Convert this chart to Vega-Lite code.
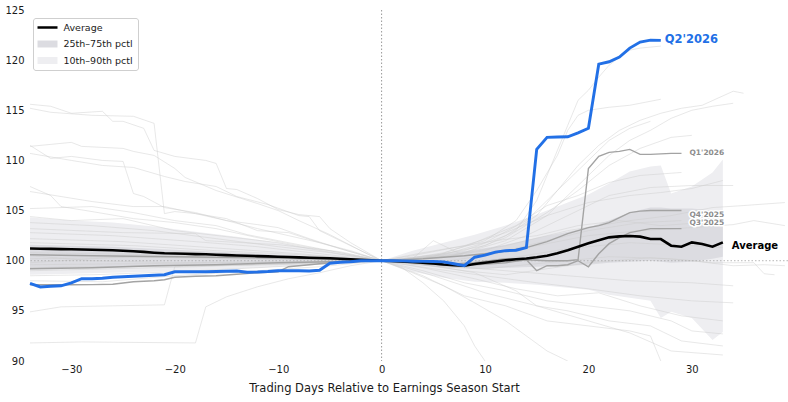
{
"$schema": "https://vega.github.io/schema/vega-lite/v6.json",
"width": 758, "height": 351,
"autosize": {"type": "none"},
"padding": {"left": 30, "top": 10, "right": 0, "bottom": 41},
"background": "white",
"config": {
 "view": {"stroke": null},
 "font": "DejaVu Sans",
 "axis": {"domain": false, "ticks": false, "grid": false, "labelFont": "DejaVu Sans", "labelFontSize": 10, "labelColor": "#1a1a1a", "titleFont": "DejaVu Sans", "titleFontSize": 11.5, "titleFontWeight": "normal", "titleColor": "#1a1a1a"},
 "axisX": {"labelPadding": 3, "titlePadding": 8},
 "axisY": {"labelPadding": 6}
},
"datasets": {
 "series": [{"s":"Average"},{"s":"25th–75th pctl"},{"s":"10th–90th pctl"}],
 "bands": [
  {"x":-34,"p10":98.6,"p25":99.2,"p75":101.6,"p90":104.3},
  {"x":-30,"p10":98.7,"p25":99.3,"p75":101.5,"p90":104.0},
  {"x":-26,"p10":98.8,"p25":99.35,"p75":101.4,"p90":103.8},
  {"x":-22,"p10":98.9,"p25":99.4,"p75":101.2,"p90":103.4},
  {"x":-18,"p10":99.0,"p25":99.5,"p75":101.0,"p90":102.9},
  {"x":-14,"p10":99.2,"p25":99.6,"p75":100.8,"p90":102.4},
  {"x":-10,"p10":99.4,"p25":99.7,"p75":100.6,"p90":101.8},
  {"x":-6,"p10":99.6,"p25":99.8,"p75":100.4,"p90":101.1},
  {"x":-3,"p10":99.8,"p25":99.9,"p75":100.2,"p90":100.6},
  {"x":0,"p10":100,"p25":100,"p75":100,"p90":100},
  {"x":3,"p10":98.9,"p25":99.6,"p75":100.4,"p90":101.0},
  {"x":6,"p10":98.3,"p25":99.3,"p75":100.7,"p90":101.8},
  {"x":9,"p10":97.9,"p25":99.2,"p75":101.1,"p90":102.6},
  {"x":12,"p10":97.8,"p25":99.3,"p75":101.6,"p90":103.5},
  {"x":15,"p10":97.6,"p25":99.4,"p75":102.3,"p90":104.6},
  {"x":18,"p10":97.3,"p25":99.5,"p75":102.9,"p90":105.8},
  {"x":20,"p10":97.1,"p25":99.6,"p75":103.3,"p90":106.6},
  {"x":22,"p10":96.6,"p25":99.8,"p75":104.0,"p90":107.7},
  {"x":24,"p10":96.3,"p25":99.9,"p75":104.8,"p90":108.9},
  {"x":26,"p10":96.0,"p25":100.0,"p75":105.3,"p90":109.4},
  {"x":27,"p10":94.3,"p25":99.9,"p75":105.3,"p90":109.5},
  {"x":28,"p10":94.9,"p25":99.8,"p75":105.2,"p90":106.7},
  {"x":30,"p10":94.3,"p25":99.9,"p75":105.2,"p90":107.4},
  {"x":32,"p10":92.1,"p25":100.2,"p75":105.0,"p90":108.8},
  {"x":33,"p10":92.9,"p25":100.4,"p75":104.9,"p90":110.1}
 ],
 "bg": [
  {"id":"b01","x":-34,"v":115.6},{"id":"b01","x":-32,"v":115.4},{"id":"b01","x":-30,"v":114.7},{"id":"b01","x":-27,"v":114.9},{"id":"b01","x":-26,"v":113.9},{"id":"b01","x":-25,"v":113.9},{"id":"b01","x":-23,"v":113.2},{"id":"b01","x":-22,"v":111.0},{"id":"b01","x":-20,"v":110.4},{"id":"b01","x":-17,"v":110.0},{"id":"b01","x":-16,"v":109.7},{"id":"b01","x":-15,"v":107.2},{"id":"b01","x":-14,"v":107.1},{"id":"b01","x":-12,"v":106.2},{"id":"b01","x":-10,"v":105.1},{"id":"b01","x":-8,"v":104.6},{"id":"b01","x":-6,"v":104.4},{"id":"b01","x":-5,"v":103.2},{"id":"b01","x":-3,"v":101.8},{"id":"b01","x":-1,"v":100.6},{"id":"b01","x":0,"v":100},{"id":"b01","x":3,"v":100.3},{"id":"b01","x":8,"v":101},{"id":"b01","x":12,"v":102.5},{"id":"b01","x":15,"v":104.5},{"id":"b01","x":17,"v":107},{"id":"b01","x":19,"v":109.5},{"id":"b01","x":21,"v":111.5},{"id":"b01","x":23,"v":113},{"id":"b01","x":25,"v":114},{"id":"b01","x":27,"v":114.7},{"id":"b01","x":29,"v":115.2},{"id":"b01","x":31,"v":115.5},{"id":"b01","x":34,"v":116.9},{"id":"b01","x":35,"v":116.7},
  {"id":"b02","x":-34,"v":115.2},{"id":"b02","x":-32,"v":114.8},{"id":"b02","x":-28,"v":114.5},{"id":"b02","x":-24,"v":114.4},{"id":"b02","x":-22,"v":113.7},{"id":"b02","x":-21,"v":104.7},{"id":"b02","x":-20,"v":104.9},{"id":"b02","x":-18,"v":104.7},{"id":"b02","x":-15,"v":104.0},{"id":"b02","x":-12,"v":103.2},{"id":"b02","x":-9,"v":102.5},{"id":"b02","x":-6,"v":101.8},{"id":"b02","x":-3,"v":101.0},{"id":"b02","x":0,"v":100},{"id":"b02","x":3,"v":100.2},{"id":"b02","x":5,"v":100.5},{"id":"b02","x":10,"v":101.5},{"id":"b02","x":13,"v":103},{"id":"b02","x":15,"v":106},{"id":"b02","x":16,"v":108.5},{"id":"b02","x":17,"v":111},{"id":"b02","x":18,"v":113.5},{"id":"b02","x":19,"v":116},{"id":"b02","x":20,"v":117},{"id":"b02","x":21,"v":118.3},{"id":"b02","x":22,"v":119.5},{"id":"b02","x":23,"v":120.3},{"id":"b02","x":24,"v":121},{"id":"b02","x":25,"v":121.2},{"id":"b02","x":27,"v":121.4},
  {"id":"b03","x":-34,"v":111.5},{"id":"b03","x":-32,"v":110.2},{"id":"b03","x":-30,"v":110.4},{"id":"b03","x":-27,"v":110.0},{"id":"b03","x":-25,"v":109.9},{"id":"b03","x":-24,"v":106.7},{"id":"b03","x":-23,"v":106.4},{"id":"b03","x":-21,"v":105.3},{"id":"b03","x":-18,"v":104.8},{"id":"b03","x":-15,"v":104.0},{"id":"b03","x":-12,"v":103.6},{"id":"b03","x":-10,"v":103.3},{"id":"b03","x":-7,"v":102.2},{"id":"b03","x":-4,"v":101.2},{"id":"b03","x":0,"v":100},{"id":"b03","x":3,"v":100.2},{"id":"b03","x":6,"v":100.6},{"id":"b03","x":10,"v":101.8},{"id":"b03","x":14,"v":104},{"id":"b03","x":17,"v":107},{"id":"b03","x":20,"v":110},{"id":"b03","x":22,"v":112},{"id":"b03","x":24,"v":113.2},{"id":"b03","x":26,"v":113.9},
  {"id":"b04","x":-34,"v":111.4},{"id":"b04","x":-30,"v":111.8},{"id":"b04","x":-29,"v":111.4},{"id":"b04","x":-25,"v":111.2},{"id":"b04","x":-24,"v":110.9},{"id":"b04","x":-22,"v":110.5},{"id":"b04","x":-20,"v":109.2},{"id":"b04","x":-19,"v":108.3},{"id":"b04","x":-16,"v":107.0},{"id":"b04","x":-12,"v":105.7},{"id":"b04","x":-10,"v":105.0},{"id":"b04","x":-8,"v":104.0},{"id":"b04","x":-5,"v":102.6},{"id":"b04","x":-2,"v":101.0},{"id":"b04","x":0,"v":100},{"id":"b04","x":4,"v":98.5},{"id":"b04","x":8,"v":96.5},{"id":"b04","x":12,"v":95.5},{"id":"b04","x":16,"v":94.0},{"id":"b04","x":20,"v":93.5},{"id":"b04","x":24,"v":93.0},{"id":"b04","x":26,"v":92.5},{"id":"b04","x":27,"v":90.0},
  {"id":"b05","x":-34,"v":110.7},{"id":"b05","x":-30,"v":110.0},{"id":"b05","x":-27,"v":109.5},{"id":"b05","x":-24,"v":109.3},{"id":"b05","x":-21,"v":108.4},{"id":"b05","x":-19,"v":107.9},{"id":"b05","x":-16,"v":107.4},{"id":"b05","x":-14,"v":106.4},{"id":"b05","x":-11,"v":105.6},{"id":"b05","x":-8,"v":104.5},{"id":"b05","x":-7,"v":104.4},{"id":"b05","x":-6,"v":103.0},{"id":"b05","x":-3,"v":101.5},{"id":"b05","x":0,"v":100},{"id":"b05","x":5,"v":100.3},{"id":"b05","x":10,"v":101},{"id":"b05","x":14,"v":102.5},{"id":"b05","x":18,"v":104.5},{"id":"b05","x":22,"v":106.5},{"id":"b05","x":26,"v":107.3},{"id":"b05","x":30,"v":107.5},{"id":"b05","x":34,"v":107.5},
  {"id":"b06","x":-34,"v":107.4},{"id":"b06","x":-32,"v":106.5},{"id":"b06","x":-31,"v":105.4},{"id":"b06","x":-28,"v":104.9},{"id":"b06","x":-24,"v":104.2},{"id":"b06","x":-20,"v":103.8},{"id":"b06","x":-16,"v":103.2},{"id":"b06","x":-12,"v":102.3},{"id":"b06","x":-8,"v":101.5},{"id":"b06","x":-4,"v":100.8},{"id":"b06","x":0,"v":100},{"id":"b06","x":3,"v":98.8},{"id":"b06","x":6,"v":97.5},{"id":"b06","x":9,"v":95.8},{"id":"b06","x":12,"v":94.0},{"id":"b06","x":14,"v":92.5},{"id":"b06","x":16,"v":91.0},{"id":"b06","x":18,"v":90.0},
  {"id":"b07","x":-34,"v":106.9},{"id":"b07","x":-28,"v":105.9},{"id":"b07","x":-24,"v":105.4},{"id":"b07","x":-21,"v":105.4},{"id":"b07","x":-18,"v":104.7},{"id":"b07","x":-15,"v":104.2},{"id":"b07","x":-12,"v":103.0},{"id":"b07","x":-9,"v":102.8},{"id":"b07","x":-6,"v":101.8},{"id":"b07","x":-3,"v":100.9},{"id":"b07","x":0,"v":100},{"id":"b07","x":3,"v":100.3},{"id":"b07","x":6,"v":100.8},{"id":"b07","x":10,"v":102},{"id":"b07","x":13,"v":104},{"id":"b07","x":15,"v":107},{"id":"b07","x":17,"v":110.5},{"id":"b07","x":18,"v":113},{"id":"b07","x":19,"v":114.5},{"id":"b07","x":20,"v":115},{"id":"b07","x":22,"v":115.3},{"id":"b07","x":24,"v":115.5},{"id":"b07","x":27,"v":116.1},
  {"id":"b08","x":-34,"v":105.2},{"id":"b08","x":-28,"v":105.4},{"id":"b08","x":-24,"v":104.8},{"id":"b08","x":-20,"v":104.0},{"id":"b08","x":-16,"v":103.5},{"id":"b08","x":-13,"v":102.6},{"id":"b08","x":-10,"v":102.0},{"id":"b08","x":-6,"v":101.2},{"id":"b08","x":-3,"v":100.6},{"id":"b08","x":0,"v":100},{"id":"b08","x":2,"v":99.8},{"id":"b08","x":5,"v":99.5},{"id":"b08","x":9,"v":98.8},{"id":"b08","x":13,"v":97.0},{"id":"b08","x":15,"v":95.5},{"id":"b08","x":18,"v":95.0},{"id":"b08","x":22,"v":94.0},{"id":"b08","x":26,"v":93.5},{"id":"b08","x":29,"v":92.0},{"id":"b08","x":33,"v":91.5},
  {"id":"b09","x":-34,"v":91.8},{"id":"b09","x":-29,"v":91.9},{"id":"b09","x":-18,"v":91.8},{"id":"b09","x":-17,"v":95.4},{"id":"b09","x":-15,"v":96.4},{"id":"b09","x":-12,"v":97.4},{"id":"b09","x":-9,"v":98.2},{"id":"b09","x":-6,"v":98.8},{"id":"b09","x":-3,"v":99.5},{"id":"b09","x":0,"v":100},{"id":"b09","x":4,"v":100.8},{"id":"b09","x":8,"v":101.5},{"id":"b09","x":12,"v":102.8},{"id":"b09","x":16,"v":104.5},{"id":"b09","x":20,"v":105.8},{"id":"b09","x":24,"v":106.5},{"id":"b09","x":27,"v":106.8},{"id":"b09","x":30,"v":107.2},{"id":"b09","x":33,"v":108.0},
  {"id":"b10","x":-34,"v":94.9},{"id":"b10","x":-31,"v":95.4},{"id":"b10","x":-26,"v":95.5},{"id":"b10","x":-21,"v":95.6},{"id":"b10","x":-20,"v":99.4},{"id":"b10","x":-17,"v":99.5},{"id":"b10","x":-12,"v":99.6},{"id":"b10","x":-8,"v":99.7},{"id":"b10","x":-4,"v":99.9},{"id":"b10","x":0,"v":100},{"id":"b10","x":5,"v":98.5},{"id":"b10","x":10,"v":96.8},{"id":"b10","x":15,"v":95.5},{"id":"b10","x":20,"v":94.0},{"id":"b10","x":24,"v":92.8},{"id":"b10","x":28,"v":91.0},{"id":"b10","x":33,"v":90.6},
  {"id":"b11","x":-34,"v":103.8},{"id":"b11","x":-28,"v":103.5},{"id":"b11","x":-22,"v":103.0},{"id":"b11","x":-16,"v":102.2},{"id":"b11","x":-10,"v":101.4},{"id":"b11","x":-5,"v":100.8},{"id":"b11","x":0,"v":100},{"id":"b11","x":3,"v":100.2},{"id":"b11","x":7,"v":100.5},{"id":"b11","x":12,"v":102},{"id":"b11","x":16,"v":104.5},{"id":"b11","x":19,"v":107.5},{"id":"b11","x":22,"v":110.5},{"id":"b11","x":24,"v":112},{"id":"b11","x":26,"v":113},{"id":"b11","x":28,"v":114.2},{"id":"b11","x":30,"v":115.0},{"id":"b11","x":32,"v":115.4},{"id":"b11","x":34,"v":115.7},
  {"id":"b12","x":-34,"v":102.8},{"id":"b12","x":-26,"v":102.5},{"id":"b12","x":-18,"v":101.9},{"id":"b12","x":-12,"v":101.4},{"id":"b12","x":-6,"v":100.7},{"id":"b12","x":0,"v":100},{"id":"b12","x":4,"v":99.0},{"id":"b12","x":8,"v":97.8},{"id":"b12","x":12,"v":97.0},{"id":"b12","x":16,"v":96.0},{"id":"b12","x":20,"v":95.5},{"id":"b12","x":24,"v":95.0},{"id":"b12","x":28,"v":94.0},{"id":"b12","x":30,"v":93.0},{"id":"b12","x":33,"v":92.7},
  {"id":"b13","x":-34,"v":101.8},{"id":"b13","x":-24,"v":101.5},{"id":"b13","x":-16,"v":101.0},{"id":"b13","x":-8,"v":100.6},{"id":"b13","x":0,"v":100},{"id":"b13","x":4,"v":100.3},{"id":"b13","x":8,"v":100.8},{"id":"b13","x":12,"v":102.3},{"id":"b13","x":16,"v":104.8},{"id":"b13","x":19,"v":107},{"id":"b13","x":22,"v":109.5},{"id":"b13","x":25,"v":111.2},{"id":"b13","x":28,"v":112.3},{"id":"b13","x":30,"v":112.5},
  {"id":"b14","x":-34,"v":100.8},{"id":"b14","x":-22,"v":100.6},{"id":"b14","x":-12,"v":100.4},{"id":"b14","x":-5,"v":100.2},{"id":"b14","x":0,"v":100},{"id":"b14","x":2,"v":99.3},{"id":"b14","x":4,"v":97.8},{"id":"b14","x":6,"v":96.0},{"id":"b14","x":8,"v":93.5},{"id":"b14","x":9,"v":91.5},{"id":"b14","x":10,"v":90.0},
  {"id":"b15","x":-34,"v":99.6},{"id":"b15","x":-24,"v":99.7},{"id":"b15","x":-14,"v":99.8},{"id":"b15","x":-6,"v":99.9},{"id":"b15","x":0,"v":100},{"id":"b15","x":6,"v":100.4},{"id":"b15","x":12,"v":101.5},{"id":"b15","x":18,"v":103},{"id":"b15","x":24,"v":104},{"id":"b15","x":28,"v":104.5},{"id":"b15","x":32,"v":105.3},{"id":"b15","x":35,"v":105.5},{"id":"b15","x":39,"v":105.8},
  {"id":"b16","x":-34,"v":99.0},{"id":"b16","x":-26,"v":99.2},{"id":"b16","x":-18,"v":99.4},{"id":"b16","x":-10,"v":99.7},{"id":"b16","x":0,"v":100},{"id":"b16","x":5,"v":99.2},{"id":"b16","x":10,"v":98.5},{"id":"b16","x":15,"v":97.8},{"id":"b16","x":20,"v":97.2},{"id":"b16","x":25,"v":96.5},{"id":"b16","x":30,"v":96.0},{"id":"b16","x":34,"v":95.8},
  {"id":"b17","x":-34,"v":98.5},{"id":"b17","x":-28,"v":98.6},{"id":"b17","x":-20,"v":98.9},{"id":"b17","x":-12,"v":99.3},{"id":"b17","x":-5,"v":99.7},{"id":"b17","x":0,"v":100},{"id":"b17","x":5,"v":99.8},{"id":"b17","x":10,"v":100.5},{"id":"b17","x":15,"v":101.5},{"id":"b17","x":20,"v":102.5},{"id":"b17","x":25,"v":103},{"id":"b17","x":30,"v":103.3},{"id":"b17","x":34,"v":103.6},{"id":"b17","x":36,"v":104.0},{"id":"b17","x":39,"v":103.5},
  {"id":"b18","x":-34,"v":104.4},{"id":"b18","x":-30,"v":104.0},{"id":"b18","x":-25,"v":104.2},{"id":"b18","x":-20,"v":103.0},{"id":"b18","x":-15,"v":102.4},{"id":"b18","x":-10,"v":101.8},{"id":"b18","x":-7,"v":101.2},{"id":"b18","x":-3,"v":100.5},{"id":"b18","x":0,"v":100},{"id":"b18","x":4,"v":99.3},{"id":"b18","x":9,"v":98.2},{"id":"b18","x":13,"v":97.2},{"id":"b18","x":17,"v":96.5},{"id":"b18","x":21,"v":96.8},{"id":"b18","x":25,"v":95.5},{"id":"b18","x":29,"v":94.5},{"id":"b18","x":33,"v":94.0},
  {"id":"b19","x":-34,"v":103.2},{"id":"b19","x":-25,"v":102.8},{"id":"b19","x":-18,"v":102.7},{"id":"b19","x":-17,"v":102.0},{"id":"b19","x":-10,"v":101.6},{"id":"b19","x":-4,"v":100.9},{"id":"b19","x":0,"v":100},{"id":"b19","x":5,"v":100.4},{"id":"b19","x":9,"v":101.8},{"id":"b19","x":13,"v":103.5},{"id":"b19","x":16,"v":105.5},{"id":"b19","x":19,"v":106.5},{"id":"b19","x":22,"v":107.8},{"id":"b19","x":25,"v":108.5},{"id":"b19","x":29,"v":108.8},
  {"id":"b20","x":-34,"v":100.2},{"id":"b20","x":-26,"v":100.3},{"id":"b20","x":-16,"v":100.5},{"id":"b20","x":-8,"v":100.3},{"id":"b20","x":0,"v":100},{"id":"b20","x":5,"v":99.5},{"id":"b20","x":10,"v":99.2},{"id":"b20","x":16,"v":99.8},{"id":"b20","x":22,"v":100.4},{"id":"b20","x":28,"v":100.2},{"id":"b20","x":32,"v":99.8},{"id":"b20","x":36,"v":99.8},{"id":"b20","x":37,"v":98.7},{"id":"b20","x":38,"v":98.6},
  {"id":"b21","x":-34,"v":99.3},{"id":"b21","x":-20,"v":99.5},{"id":"b21","x":-10,"v":99.6},{"id":"b21","x":0,"v":100},{"id":"b21","x":4,"v":99.6},{"id":"b21","x":8,"v":99.0},{"id":"b21","x":12,"v":98.6},{"id":"b21","x":16,"v":99.2},{"id":"b21","x":20,"v":99.8},{"id":"b21","x":26,"v":100.3},{"id":"b21","x":30,"v":100.0},{"id":"b21","x":34,"v":99.5},{"id":"b21","x":37,"v":99.6},{"id":"b21","x":39,"v":99.5},
  {"id":"b22","x":-34,"v":98.0},{"id":"b22","x":-27,"v":97.9},{"id":"b22","x":-20,"v":98.5},{"id":"b22","x":-12,"v":99.0},{"id":"b22","x":-6,"v":99.4},{"id":"b22","x":0,"v":100},{"id":"b22","x":6,"v":99.6},{"id":"b22","x":12,"v":100.2},{"id":"b22","x":18,"v":101.2},{"id":"b22","x":24,"v":101.8},{"id":"b22","x":30,"v":101.5},{"id":"b22","x":33,"v":101.3},
  {"id":"b23","x":-34,"v":102.2},{"id":"b23","x":-25,"v":101.9},{"id":"b23","x":-15,"v":101.2},{"id":"b23","x":-8,"v":100.7},{"id":"b23","x":0,"v":100},{"id":"b23","x":6,"v":99.5},{"id":"b23","x":12,"v":99.0},{"id":"b23","x":18,"v":98.5},{"id":"b23","x":24,"v":98.0},{"id":"b23","x":30,"v":97.8},{"id":"b23","x":34,"v":97.5},
  {"id":"b24","x":-34,"v":100.5},{"id":"b24","x":-28,"v":100.0},{"id":"b24","x":-20,"v":99.8},{"id":"b24","x":-10,"v":99.9},{"id":"b24","x":0,"v":100},{"id":"b24","x":3,"v":100.5},{"id":"b24","x":7,"v":101.3},{"id":"b24","x":11,"v":102},{"id":"b24","x":15,"v":102.5},{"id":"b24","x":19,"v":103.5},{"id":"b24","x":23,"v":104},{"id":"b24","x":27,"v":103.5},{"id":"b24","x":31,"v":103.8},{"id":"b24","x":33,"v":104},
  {"id":"b25","x":-34,"v":99.8},{"id":"b25","x":-25,"v":100.4},{"id":"b25","x":-15,"v":100.2},{"id":"b25","x":-7,"v":100.1},{"id":"b25","x":0,"v":100},{"id":"b25","x":3,"v":100.2},{"id":"b25","x":5,"v":102.0},{"id":"b25","x":8,"v":100.5},{"id":"b25","x":12,"v":101},{"id":"b25","x":16,"v":102.0},{"id":"b25","x":20,"v":103},{"id":"b25","x":25,"v":103.8},{"id":"b25","x":29,"v":104}
 ],
 "quarters": [
  {"q":"Q1'2026","x":-34,"v":97.6},{"q":"Q1'2026","x":-30,"v":97.6},{"q":"Q1'2026","x":-28,"v":97.62},{"q":"Q1'2026","x":-26,"v":97.65},{"q":"Q1'2026","x":-24,"v":97.9},{"q":"Q1'2026","x":-22,"v":98.0},{"q":"Q1'2026","x":-21,"v":98.1},{"q":"Q1'2026","x":-20,"v":98.35},{"q":"Q1'2026","x":-18,"v":98.45},{"q":"Q1'2026","x":-16,"v":98.5},{"q":"Q1'2026","x":-14,"v":98.65},{"q":"Q1'2026","x":-12,"v":98.8},{"q":"Q1'2026","x":-10,"v":98.9},{"q":"Q1'2026","x":-9,"v":99.4},{"q":"Q1'2026","x":-7,"v":99.6},{"q":"Q1'2026","x":-5,"v":99.8},{"q":"Q1'2026","x":-3,"v":99.9},{"q":"Q1'2026","x":0,"v":100},{"q":"Q1'2026","x":3,"v":99.8},{"q":"Q1'2026","x":6,"v":99.6},{"q":"Q1'2026","x":9,"v":99.6},{"q":"Q1'2026","x":12,"v":99.8},{"q":"Q1'2026","x":14,"v":100.1},{"q":"Q1'2026","x":16,"v":100.0},{"q":"Q1'2026","x":18,"v":100.0},{"q":"Q1'2026","x":19,"v":100.1},{"q":"Q1'2026","x":20,"v":109.2},{"q":"Q1'2026","x":21,"v":110.4},{"q":"Q1'2026","x":22,"v":110.8},{"q":"Q1'2026","x":23,"v":110.9},{"q":"Q1'2026","x":24,"v":111.1},{"q":"Q1'2026","x":25,"v":110.6},{"q":"Q1'2026","x":26,"v":110.6},{"q":"Q1'2026","x":27,"v":110.65},{"q":"Q1'2026","x":28,"v":110.7},{"q":"Q1'2026","x":29,"v":110.7},
  {"q":"Q4'2025","x":-34,"v":99.2},{"q":"Q4'2025","x":-28,"v":99.3},{"q":"Q4'2025","x":-22,"v":99.5},{"q":"Q4'2025","x":-16,"v":99.6},{"q":"Q4'2025","x":-10,"v":99.8},{"q":"Q4'2025","x":-5,"v":99.9},{"q":"Q4'2025","x":0,"v":100},{"q":"Q4'2025","x":4,"v":100.2},{"q":"Q4'2025","x":8,"v":100.5},{"q":"Q4'2025","x":11,"v":100.8},{"q":"Q4'2025","x":14,"v":101.3},{"q":"Q4'2025","x":16,"v":101.9},{"q":"Q4'2025","x":18,"v":102.7},{"q":"Q4'2025","x":19,"v":103.0},{"q":"Q4'2025","x":20,"v":103.3},{"q":"Q4'2025","x":21,"v":103.5},{"q":"Q4'2025","x":22,"v":103.8},{"q":"Q4'2025","x":23,"v":104.3},{"q":"Q4'2025","x":24,"v":104.8},{"q":"Q4'2025","x":25,"v":104.95},{"q":"Q4'2025","x":26,"v":105.0},{"q":"Q4'2025","x":29,"v":105.0},
  {"q":"Q3'2025","x":-34,"v":100.6},{"q":"Q3'2025","x":-28,"v":100.5},{"q":"Q3'2025","x":-20,"v":100.4},{"q":"Q3'2025","x":-12,"v":100.3},{"q":"Q3'2025","x":-6,"v":100.2},{"q":"Q3'2025","x":0,"v":100},{"q":"Q3'2025","x":3,"v":99.8},{"q":"Q3'2025","x":6,"v":99.6},{"q":"Q3'2025","x":9,"v":99.8},{"q":"Q3'2025","x":12,"v":100.2},{"q":"Q3'2025","x":14,"v":100.1},{"q":"Q3'2025","x":15,"v":99.0},{"q":"Q3'2025","x":16,"v":99.5},{"q":"Q3'2025","x":17,"v":99.5},{"q":"Q3'2025","x":18,"v":99.6},{"q":"Q3'2025","x":19,"v":100.0},{"q":"Q3'2025","x":20,"v":99.4},{"q":"Q3'2025","x":21,"v":100.7},{"q":"Q3'2025","x":22,"v":101.7},{"q":"Q3'2025","x":23,"v":102.3},{"q":"Q3'2025","x":24,"v":102.8},{"q":"Q3'2025","x":25,"v":103.0},{"q":"Q3'2025","x":26,"v":103.2},{"q":"Q3'2025","x":29,"v":103.2}
 ],
 "avg": [
  {"x":-34,"v":101.22},{"x":-33,"v":101.2},{"x":-32,"v":101.18},{"x":-31,"v":101.16},{"x":-30,"v":101.15},{"x":-29,"v":101.12},{"x":-28,"v":101.1},{"x":-27,"v":101.07},{"x":-26,"v":101.04},{"x":-25,"v":101.0},{"x":-24,"v":100.95},{"x":-23,"v":100.88},{"x":-22,"v":100.8},{"x":-21,"v":100.74},{"x":-20,"v":100.72},{"x":-19,"v":100.7},{"x":-18,"v":100.66},{"x":-17,"v":100.64},{"x":-16,"v":100.6},{"x":-15,"v":100.56},{"x":-14,"v":100.52},{"x":-13,"v":100.5},{"x":-12,"v":100.46},{"x":-11,"v":100.43},{"x":-10,"v":100.4},{"x":-9,"v":100.37},{"x":-8,"v":100.33},{"x":-7,"v":100.3},{"x":-6,"v":100.27},{"x":-5,"v":100.24},{"x":-4,"v":100.2},{"x":-3,"v":100.15},{"x":-2,"v":100.1},{"x":-1,"v":100.05},{"x":0,"v":100},{"x":1,"v":99.97},{"x":2,"v":99.93},{"x":3,"v":99.87},{"x":4,"v":99.8},{"x":5,"v":99.72},{"x":6,"v":99.62},{"x":7,"v":99.55},{"x":8,"v":99.5},{"x":9,"v":99.68},{"x":10,"v":99.8},{"x":11,"v":99.92},{"x":12,"v":100.04},{"x":13,"v":100.14},{"x":14,"v":100.22},{"x":15,"v":100.34},{"x":16,"v":100.5},{"x":17,"v":100.74},{"x":18,"v":101.05},{"x":19,"v":101.4},{"x":20,"v":101.75},{"x":21,"v":102.05},{"x":22,"v":102.33},{"x":23,"v":102.43},{"x":24,"v":102.46},{"x":25,"v":102.4},{"x":26,"v":102.16},{"x":27,"v":102.16},{"x":28,"v":101.5},{"x":29,"v":101.4},{"x":30,"v":101.83},{"x":31,"v":101.67},{"x":32,"v":101.4},{"x":33,"v":101.83}
 ],
 "cur": [
  {"x":-34,"v":97.75},{"x":-33,"v":97.38},{"x":-32,"v":97.45},{"x":-31,"v":97.5},{"x":-30,"v":97.8},{"x":-29,"v":98.2},{"x":-28,"v":98.2},{"x":-27,"v":98.25},{"x":-26,"v":98.35},{"x":-25,"v":98.4},{"x":-24,"v":98.45},{"x":-23,"v":98.5},{"x":-22,"v":98.55},{"x":-21,"v":98.6},{"x":-20,"v":98.9},{"x":-19,"v":98.9},{"x":-18,"v":98.9},{"x":-17,"v":98.9},{"x":-16,"v":98.92},{"x":-15,"v":98.95},{"x":-14,"v":98.97},{"x":-13,"v":98.85},{"x":-12,"v":98.87},{"x":-11,"v":98.92},{"x":-10,"v":99.0},{"x":-9,"v":99.0},{"x":-8,"v":99.0},{"x":-7,"v":98.98},{"x":-6,"v":99.05},{"x":-5,"v":99.75},{"x":-4,"v":99.85},{"x":-3,"v":99.9},{"x":-2,"v":100.0},{"x":-1,"v":100.0},{"x":0,"v":100},{"x":1,"v":100.0},{"x":2,"v":99.98},{"x":3,"v":99.95},{"x":4,"v":99.93},{"x":5,"v":99.92},{"x":6,"v":99.88},{"x":7,"v":99.7},{"x":8,"v":99.5},{"x":9,"v":100.35},{"x":10,"v":100.55},{"x":11,"v":100.85},{"x":12,"v":101.0},{"x":13,"v":101.05},{"x":14,"v":101.3},{"x":15,"v":111.1},{"x":16,"v":112.3},{"x":17,"v":112.33},{"x":18,"v":112.36},{"x":19,"v":112.75},{"x":20,"v":113.2},{"x":21,"v":119.6},{"x":22,"v":119.84},{"x":23,"v":120.3},{"x":24,"v":121.2},{"x":25,"v":121.8},{"x":26,"v":122.0},{"x":27,"v":121.97}
 ],
 "labels": [
  {"k":"cur","t":"Q2'2026","x":27,"v":121.97},
  {"k":"avg","t":"Average","x":33,"v":101.5},
  {"k":"q","t":"Q1'2026","x":29,"v":110.7},
  {"k":"q","t":"Q4'2025","x":29,"v":104.56},
  {"k":"q","t":"Q3'2025","x":29,"v":103.73}
 ],
 "vrule": [{"x":0}],
 "hrule": [{"v":100}]
},
"encoding": {
 "x": {"field": "x", "type": "quantitative",
  "scale": {"domain": [-34, 39.3], "nice": false, "zero": false},
  "axis": {"values": [-30,-20,-10,0,10,20,30], "titleX": 354},
  "title": "Trading Days Relative to Earnings Season Start"}
},
"layer": [
 {"data": {"name": "bands"},
  "mark": {"type": "area", "opacity": 1, "fill": "#eeeef1"},
  "encoding": {
   "y": {"field": "p10", "type": "quantitative", "scale": {"domain": [90, 125], "nice": false, "zero": false}, "axis": {"values": [90,95,100,105,110,115,120,125]}, "title": null},
   "y2": {"field": "p90"}
  }
 },
 {"data": {"name": "bands"},
  "mark": {"type": "area", "opacity": 1, "fill": "#dcdce1"},
  "encoding": {
   "y": {"field": "p25", "type": "quantitative", "title": null},
   "y2": {"field": "p75"}
  }
 },
 {"data": {"name": "bg"},
  "mark": {"type": "line", "stroke": "#cccccc", "strokeWidth": 0.9, "opacity": 0.5, "clip": true},
  "encoding": {
   "y": {"field": "v", "type": "quantitative", "title": null},
   "detail": {"field": "id"}
  }
 },
 {"data": {"name": "vrule"},
  "mark": {"type": "rule", "stroke": "#999999", "strokeWidth": 1, "strokeDash": [1.5, 2]},
  "encoding": {}
 },
 {"data": {"name": "hrule"},
  "mark": {"type": "rule", "stroke": "#b0b0b0", "strokeWidth": 0.9, "strokeDash": [1.5, 2]},
  "encoding": {"x": null, "y": {"field": "v", "type": "quantitative", "title": null}}
 },
 {"data": {"name": "quarters"},
  "mark": {"type": "line", "stroke": "#a3a3a3", "strokeWidth": 1.4},
  "encoding": {
   "y": {"field": "v", "type": "quantitative", "title": null},
   "detail": {"field": "q"}
  }
 },
 {"data": {"name": "avg"},
  "mark": {"type": "line", "stroke": "#000000", "strokeWidth": 2.6},
  "encoding": {
   "y": {"field": "v", "type": "quantitative", "title": null}
  }
 },
 {"data": {"name": "cur"},
  "mark": {"type": "line", "stroke": "#2270e6", "strokeWidth": 2.9},
  "encoding": {
   "y": {"field": "v", "type": "quantitative", "title": null}
  }
 },
 {"data": {"name": "labels"},
  "transform": [{"filter": "datum.k === 'cur'"}],
  "mark": {"type": "text", "align": "left", "baseline": "middle", "dx": 4, "font": "DejaVu Sans", "fontWeight": "bold", "fontSize": 11.5, "fill": "#2270e6"},
  "encoding": {"y": {"field": "v", "type": "quantitative", "title": null}, "text": {"field": "t"}}
 },
 {"data": {"name": "labels"},
  "transform": [{"filter": "datum.k === 'avg'"}],
  "mark": {"type": "text", "align": "left", "baseline": "middle", "dx": 9, "font": "DejaVu Sans", "fontWeight": "bold", "fontSize": 10, "fill": "#000000"},
  "encoding": {"y": {"field": "v", "type": "quantitative", "title": null}, "text": {"field": "t"}}
 },
 {"data": {"name": "labels"},
  "transform": [{"filter": "datum.k === 'q'"}],
  "mark": {"type": "text", "align": "left", "baseline": "middle", "dx": 8, "font": "DejaVu Sans", "fontWeight": "bold", "fontSize": 7.5, "stroke": "white", "strokeWidth": 3, "strokeJoin": "round", "fill": "white"},
  "encoding": {"y": {"field": "v", "type": "quantitative", "title": null}, "text": {"field": "t"}}
 },
 {"data": {"name": "labels"},
  "transform": [{"filter": "datum.k === 'q'"}],
  "mark": {"type": "text", "align": "left", "baseline": "middle", "dx": 8, "font": "DejaVu Sans", "fontWeight": "bold", "fontSize": 7.5, "fill": "#8c8c8c"},
  "encoding": {"y": {"field": "v", "type": "quantitative", "title": null}, "text": {"field": "t"}}
 },
 {"data": {"name": "series"},
  "mark": {"type": "point", "filled": true, "opacity": 0, "size": 100},
  "encoding": {
   "x": null,
   "y": null,
   "color": {"field": "s", "type": "nominal",
    "scale": {"domain": ["Average", "25th–75th pctl", "10th–90th pctl"], "range": ["#000000", "#dcdce1", "#eeeef1"]},
    "legend": {"orient": "none", "legendX": 3, "legendY": 8, "title": null,
     "labelFont": "DejaVu Sans", "labelFontSize": 9.5, "labelColor": "#222222",
     "fillColor": "rgba(255,255,255,0.85)", "strokeColor": "#cfcfcf", "cornerRadius": 2.5, "padding": 4.5,
     "symbolSize": 100, "symbolOffset": 5, "labelOffset": 11, "rowPadding": 6.5, "symbolOpacity": 1, "symbolStrokeWidth": 0}},
   "shape": {"field": "s", "type": "nominal",
    "scale": {"domain": ["Average", "25th–75th pctl", "10th–90th pctl"], "range": ["M-2,-0.25H2V0.25H-2Z", "M-2,-0.7H2V0.7H-2Z", "M-2,-0.7H2V0.7H-2Z"]},
    "legend": {"orient": "none", "legendX": 3, "legendY": 8, "title": null,
     "labelFont": "DejaVu Sans", "labelFontSize": 9.5, "labelColor": "#222222",
     "fillColor": "rgba(255,255,255,0.85)", "strokeColor": "#cfcfcf", "cornerRadius": 2.5, "padding": 4.5,
     "symbolSize": 100, "symbolOffset": 5, "labelOffset": 11, "rowPadding": 6.5, "symbolOpacity": 1, "symbolStrokeWidth": 0}}
  }
 }
]
}
